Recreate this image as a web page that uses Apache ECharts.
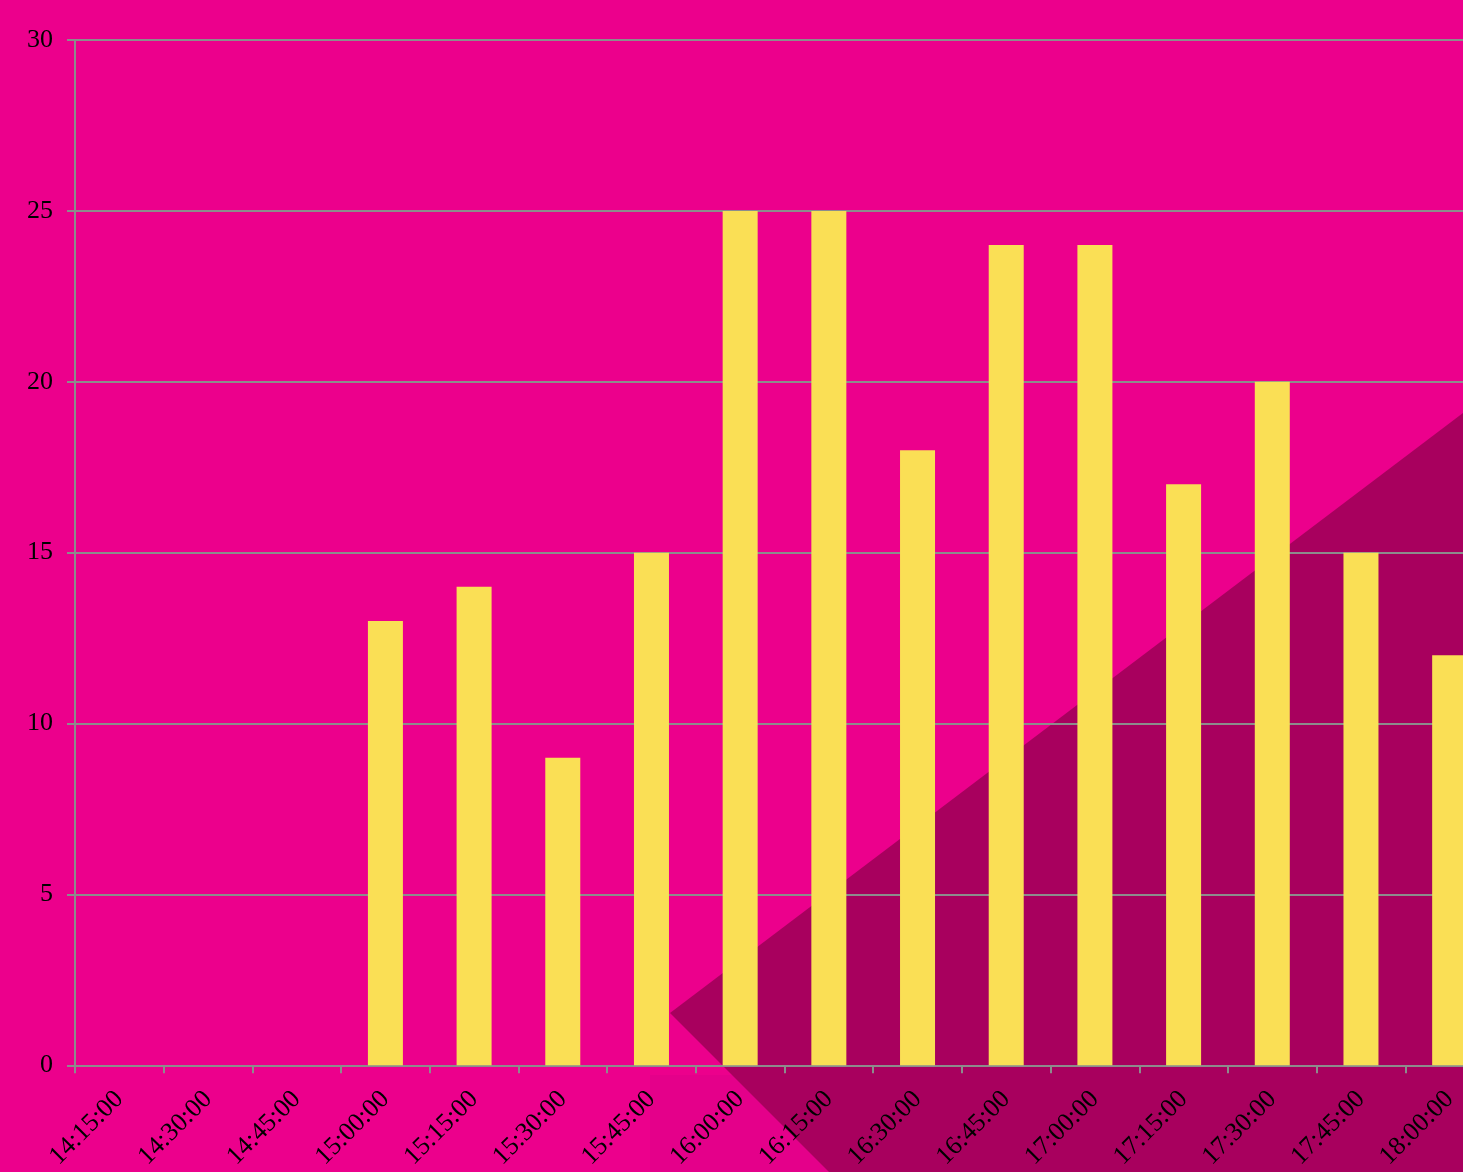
<!DOCTYPE html>
<html>
<head>
<meta charset="utf-8">
<script src="https://cdn.jsdelivr.net/npm/echarts@6/dist/echarts.min.js"></script>
<style>
html,body{margin:0;padding:0;overflow:hidden;background:#EC008C;}
#chart{width:1500px;height:1172px;}
</style>
</head>
<body>
<div id="chart"></div>
<script>
const categories = ["14:15:00","14:30:00","14:45:00","15:00:00","15:15:00","15:30:00","15:45:00","16:00:00","16:15:00","16:30:00","16:45:00","17:00:00","17:15:00","17:30:00","17:45:00","18:00:00"];
const values = [0,0,0,13,14,9,15,25,25,18,24,24,17,20,15,12];
const yTicks = [0,5,10,15,20,25,30];

const chart = echarts.init(document.getElementById('chart'));
chart.setOption({
  backgroundColor: '#EC008C',
  animation: false,
  graphic: [
    { type: 'polygon', z: -10, silent: true,
      shape: { points: [[650,1075],[1500,1075],[1500,1172],[650,1172]] },
      style: { fill: '#E4008A' } },
    { type: 'polygon', z: -9, silent: true,
      shape: { points: [[670,1013],[1500,385],[1500,1172],[829,1172]] },
      style: { fill: '#A8005E' } }
  ],
  grid: { left: 75, top: 40, bottom: 105, right: 6, containLabel: false },
  xAxis: {
    type: 'category',
    data: categories,
    boundaryGap: true,
    axisLine: { lineStyle: { color: '#8C8C8C', width: 2 } },
    axisTick: { show: true, length: 8, alignWithLabel: false, lineStyle: { color: '#8C8C8C', width: 2 } },
    axisLabel: { rotate: 45, interval: 0, margin: 30, color: '#000', fontFamily: 'Liberation Serif', fontSize: 26 }
  },
  yAxis: {
    type: 'value',
    min: 0, max: 30, interval: 5,
    axisLine: { show: true, lineStyle: { color: '#8C8C8C', width: 2 } },
    axisTick: { show: true, length: 8, lineStyle: { color: '#8C8C8C', width: 2 } },
    axisLabel: { margin: 22, color: '#000', fontFamily: 'Liberation Serif', fontSize: 26,
      formatter: v => yTicks.includes(v) ? String(v) : '' },
    splitLine: { show: true, lineStyle: { color: '#8C8C8C', width: 2 } }
  },
  series: [{
    type: 'bar',
    data: values,
    barWidth: 35,
    itemStyle: { color: '#FADF55' }
  }]
});
</script>
</body>
</html>
